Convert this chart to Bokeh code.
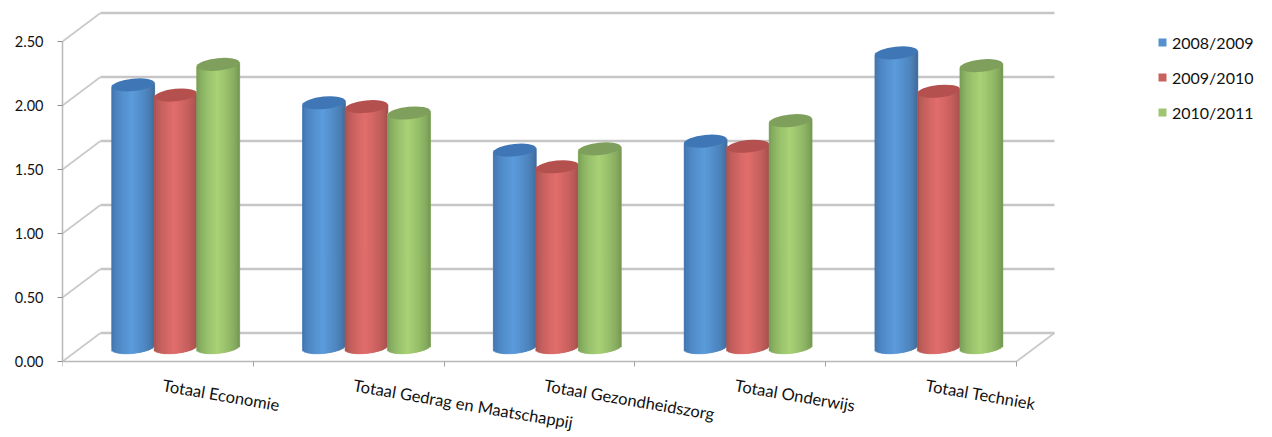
from bokeh.plotting import figure
from bokeh.embed import file_html
from bokeh.resources import INLINE
from bokeh.models import ColumnDataSource, Legend, LegendItem, Range1d, FixedTicker, CustomJSTickFormatter
from bokeh.core.properties import value
import numpy as np

categories = ["Totaal Economie", "Totaal Gedrag en Maatschappij", "Totaal Gezondheidszorg", "Totaal Onderwijs", "Totaal Techniek"]
series_names = ["2008/2009", "2009/2010", "2010/2011"]
v_2008 = [2.05, 1.91, 1.54, 1.61, 2.30]
v_2009 = [1.97, 1.88, 1.41, 1.57, 2.00]
v_2010 = [2.21, 1.83, 1.55, 1.77, 2.20]
y_ticks = [0.0, 0.5, 1.0, 1.5, 2.0, 2.5]
series_values = [v_2008, v_2009, v_2010]

FONT = "Lato"
PX_X, PX_Y = 190.8, 128.0          # pixels per category / per value unit
DX, DY = 38 / PX_X, 28.5 / PX_Y    # depth of the 3D box
legend_col = ["#5790cf", "#c8625f", "#9fc571"]
edge_l = ["#3f6fa6", "#a04f4e", "#6f9452"]
mid_c = ["#5c9cdc", "#e26f6c", "#a9d276"]
edge_r = ["#3c6592", "#9a4a49", "#6c8f4e"]
cap_c = ["#3f77b6", "#b4504e", "#7fa05c"]

p = figure(width=1272, height=437, output_backend="svg", toolbar_location=None,
           x_axis_location="above",
           x_range=Range1d(0, (1272 - 62) / PX_X), y_range=Range1d((361 - 437) / PX_Y, 361 / PX_Y),
           min_border_left=62, min_border_right=0, min_border_top=0, min_border_bottom=0,
           outline_line_color=None, background_fill_color="white", border_fill_color="white")
p.grid.visible = False

ax = p.yaxis[0]
ax.ticker = FixedTicker(ticks=y_ticks)
ax.formatter = CustomJSTickFormatter(code="return tick.toFixed(2);")
ax.bounds = (0, 2.5)
ax.axis_line_color = "#b8b8b8"; ax.axis_line_width = 1.5
ax.major_tick_line_color = "#909090"; ax.major_tick_out = 5; ax.major_tick_in = 0
ax.minor_tick_line_color = None
ax.major_label_standoff = 14
ax.major_label_text_font = FONT; ax.major_label_text_font_size = "14.5px"; ax.major_label_text_color = "#111111"

n = len(categories)
bx = p.xaxis[0]
bx.fixed_location = 0
bx.bounds = (0, n)
bx.ticker = FixedTicker(ticks=list(range(n + 1)))
bx.axis_line_color = "#b8b8b8"; bx.axis_line_width = 1.5
bx.major_tick_line_color = "#a0a0a0"; bx.major_tick_out = 0; bx.major_tick_in = 5
bx.minor_tick_line_color = None
bx.major_label_text_color = None
bx.major_label_text_font_size = "0px"
bx.major_label_standoff = 0

yt = np.array(y_ticks)
p.segment(x0=[DX] * len(yt), y0=yt + DY, x1=[n + DX] * len(yt), y1=yt + DY, line_color="#c6c6c6", line_width=2.5)
p.segment(x0=[0] * len(yt), y0=yt, x1=[DX] * len(yt), y1=yt + DY, line_color="#c9c9c9", line_width=1.6)
p.segment(x0=[n], y0=[0], x1=[n + DX], y1=[DY], line_color="#c9c9c9", line_width=1.6)


def hex_rgb(h):
    return np.array([int(h[i:i + 2], 16) for i in (1, 3, 5)], dtype=float)


def shade(t, s):
    peak = -0.05
    if t < peak:
        f = ((t + 1) / (peak + 1)) ** 0.55
        c = hex_rgb(edge_l[s]) * (1 - f) + hex_rgb(mid_c[s]) * f
    else:
        f = ((1 - t) / (1 - peak)) ** 0.55
        c = hex_rgb(edge_r[s]) * (1 - f) + hex_rgb(mid_c[s]) * f
    return "#%02x%02x%02x" % tuple(int(round(q)) for q in c)


BAR_W = 43 / PX_X
BAR_STEP = 42.5 / PX_X
CAP_H = 12.5 / PX_Y
TILT = 0.1
Z0 = DY / 2
STRIPS = 22
cx0 = np.arange(n) + 0.5 + DX / 2 - 1.2 / PX_X

legend_items = []
for s, vals in enumerate(series_values):
    vals = np.array(vals)
    centers = cx0 + (s - 1) * BAR_STEP
    base = p.quad(left=centers - BAR_W / 2, right=centers + BAR_W / 2, bottom=vals * 0 + Z0, top=vals + Z0,
                  fill_color=legend_col[s], line_color=None)
    legend_items.append(LegendItem(label=series_names[s], renderers=[base]))
    p.ellipse(x=centers, y=vals * 0 + Z0, width=BAR_W, height=CAP_H, angle=TILT,
              fill_color=legend_col[s], line_color=None)
    L, R, B, T, C = [], [], [], [], []
    edges = np.linspace(-1, 1, STRIPS + 1)
    for c, v in zip(centers, vals):
        for a, b in zip(edges[:-1], edges[1:]):
            t = (a + b) / 2
            tilt_px = np.tan(TILT) * t * 21.5
            L.append(c + a * BAR_W / 2)
            R.append(c + b * BAR_W / 2)
            B.append(Z0 + (tilt_px - 6.2 * np.sqrt(1 - t * t)) / PX_Y)
            T.append(v + Z0 + tilt_px / PX_Y)
            C.append(shade(t, s))
    src = ColumnDataSource(dict(left=L, right=R, bottom=B, top=T, color=C))
    p.quad(left="left", right="right", bottom="bottom", top="top", fill_color="color", line_color="color",
           line_width=0.5, source=src)
    p.ellipse(x=centers, y=vals + Z0, width=BAR_W * 0.99, height=CAP_H, angle=TILT,
              fill_color=cap_c[s], line_color=None)

p.text(x=np.arange(n) + 0.525, y=[-0.185] * n, text=categories, angle=-0.17, text_font=value(FONT),
       text_font_size="16.5px", text_color="#111111", text_baseline="alphabetic", text_align="left")

legend = Legend(items=legend_items, location=(1095, 315), orientation="vertical", glyph_width=10, glyph_height=10,
                label_standoff=5, spacing=15, padding=0, margin=0, border_line_color=None,
                background_fill_color=None, background_fill_alpha=0, label_text_font=FONT,
                label_text_font_size="16px", label_text_color="#111111", label_height=20)
p.add_layout(legend)

open("out.html", "w").write(file_html(p, INLINE))
